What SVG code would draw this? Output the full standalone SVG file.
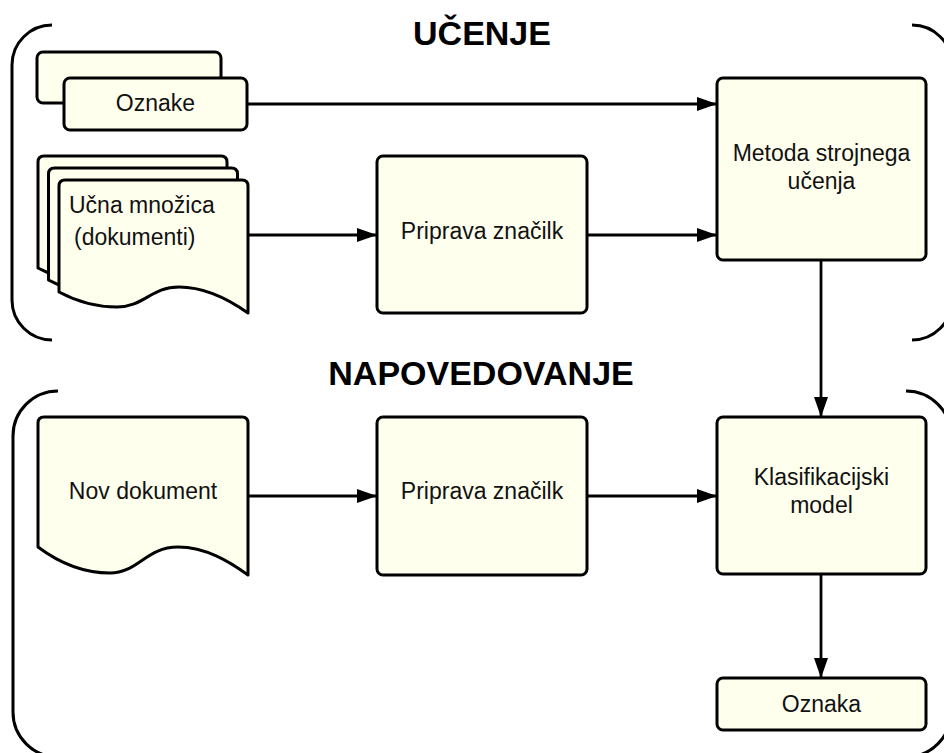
<svg xmlns="http://www.w3.org/2000/svg" width="944" height="753" viewBox="0 0 944 753">
  <style>
    .box { fill: #ffffee; stroke: #000; stroke-width: 3; stroke-linejoin: round; }
    .frame { fill: none; stroke: #000; stroke-width: 3; }
    .edge { fill: none; stroke: #000; stroke-width: 2.8; }
    .lbl { font-family: "Liberation Sans", Arial, sans-serif; font-size: 23px; fill: #111; text-anchor: middle; }
    .title { font-family: "Liberation Sans", Arial, sans-serif; font-size: 34px; font-weight: bold; fill: #000; text-anchor: middle; }
  </style>
  <defs>
    <marker id="arrow" markerUnits="userSpaceOnUse" markerWidth="20" markerHeight="14" refX="20" refY="7" orient="auto">
      <path d="M0,0 L20,7 L0,14 Z" fill="#000"/>
    </marker>
    <!-- document shape with wavy bottom, 189 x 133 -->
    <path id="docSmall" d="M0,112 L0,6 Q0,0 6,0 L183,0 Q189,0 189,6 L189,133 C172,121 148,107 120,107 C92,107 85,127 58,127 C35,127 15,120 0,112 Z"/>
  </defs>
  <rect width="944" height="753" fill="#fff"/>

  <!-- section frames -->
  <g id="frames">
    <path class="frame" d="M52,25 A40,40 0 0 0 12,65 L12,300 A40,40 0 0 0 52,340"/>
    <path class="frame" d="M912,25 A40,40 0 0 1 952,65 L952,300 A40,40 0 0 1 912,340"/>
    <path class="frame" d="M58,391 A45,45 0 0 0 13,436 L13,712 A45,45 0 0 0 58,757"/>
    <path class="frame" d="M906,391 A45,45 0 0 1 951,436 L951,712 A45,45 0 0 1 906,757"/>
    <text class="title" x="482" y="45">UČENJE</text>
    <text class="title" x="481" y="385">NAPOVEDOVANJE</text>
  </g>

  <!-- connectors -->
  <g id="connectors">
    <line class="edge" x1="247" y1="104" x2="717" y2="104" marker-end="url(#arrow)"/>
    <line class="edge" x1="248" y1="235" x2="377" y2="235" marker-end="url(#arrow)"/>
    <line class="edge" x1="587" y1="235" x2="717" y2="235" marker-end="url(#arrow)"/>
    <line class="edge" x1="821" y1="260" x2="821" y2="417" marker-end="url(#arrow)"/>
    <line class="edge" x1="248" y1="496" x2="377" y2="496" marker-end="url(#arrow)"/>
    <line class="edge" x1="587" y1="496" x2="717" y2="496" marker-end="url(#arrow)"/>
    <line class="edge" x1="821" y1="574" x2="821" y2="678" marker-end="url(#arrow)"/>
  </g>

  <g id="oznake">
    <rect class="box" x="37" y="52" width="184" height="51" rx="6"/>
    <rect class="box" x="64" y="78" width="183" height="52" rx="6"/>
    <text class="lbl" x="155.5" y="111">Oznake</text>
  </g>

  <g id="ucna-mnozica">
    <use href="#docSmall" class="box" x="38" y="156"/>
    <use href="#docSmall" class="box" x="48.5" y="168"/>
    <use href="#docSmall" class="box" x="59" y="180"/>
    <text class="lbl" x="69" y="213" style="text-anchor:start">Učna množica</text>
    <text class="lbl" x="74" y="245" style="text-anchor:start">(dokumenti)</text>
  </g>

  <g id="priprava-ucenje">
    <rect class="box" x="377" y="156" width="210" height="157" rx="6"/>
    <text class="lbl" x="482" y="239">Priprava značilk</text>
  </g>

  <g id="metoda">
    <rect class="box" x="717" y="78" width="209" height="182" rx="6"/>
    <text class="lbl" x="821.5" y="161">Metoda strojnega</text>
    <text class="lbl" x="821.5" y="189">učenja</text>
  </g>

  <g id="nov-dokument">
    <path class="box" transform="translate(38,417)" d="M0,130 L0,6 Q0,0 6,0 L204,0 Q210,0 210,6 L210,158 C192,145 168,130 140,130 C108,130 100,156 72,156 C45,156 20,145 0,130 Z"/>
    <text class="lbl" x="143" y="499">Nov dokument</text>
  </g>

  <g id="priprava-napoved">
    <rect class="box" x="377" y="417" width="210" height="158" rx="6"/>
    <text class="lbl" x="482" y="499">Priprava značilk</text>
  </g>

  <g id="klasifikacijski-model">
    <rect class="box" x="717" y="417" width="209" height="157" rx="6"/>
    <text class="lbl" x="821.5" y="485">Klasifikacijski</text>
    <text class="lbl" x="821.5" y="513">model</text>
  </g>

  <g id="oznaka">
    <rect class="box" x="717" y="678" width="209" height="52" rx="6"/>
    <text class="lbl" x="821.5" y="712">Oznaka</text>
  </g>
</svg>
